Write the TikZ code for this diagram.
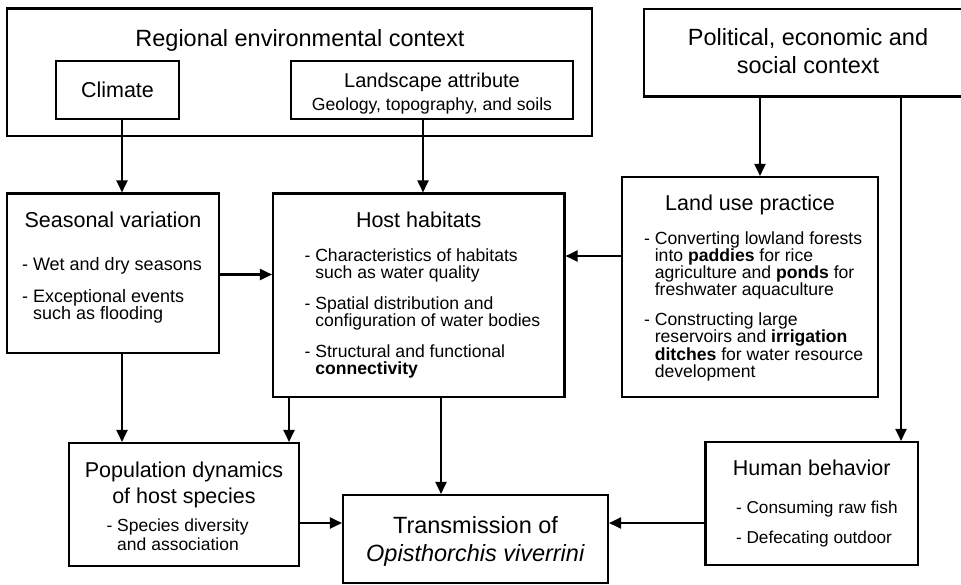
\documentclass[tikz,border=0pt]{standalone}
\usepackage{fontspec}
\setmainfont{Liberation Sans}
\usetikzlibrary{arrows.meta}
\tikzset{
  ov diagram/.style={line width=2.1pt, line join=miter},
  ov box/.style={draw=black, fill=white, line width=2.1pt, inner sep=0pt},
  ov head/.style={inner sep=0pt, align=center, anchor=north,
    font=\fontsize{23.5}{28}\selectfont},
  ov title/.style={inner sep=0pt, align=center, anchor=north,
    font=\fontsize{21.5}{26}\selectfont},
  ov note/.style={inner sep=0pt, align=center, anchor=north,
    font=\fontsize{17.6}{17.4}\selectfont},
  ov list/.style={inner sep=0pt, align=left, anchor=north west,
    font=\fontsize{17.6}{17.2}\selectfont},
  ov arrow/.style={-{Triangle[length=12pt,width=11pt]}, line width=2.1pt}
}

\begin{document}
\begin{tikzpicture}[ov diagram, x=1pt, y=-1pt]
\path[use as bounding box] (0,0) rectangle (961,584);
\clip (0,0) rectangle (961,584);
\fill[white] (0,0) rectangle (961,584);
% context boxes
\node[ov box, minimum width=585pt, minimum height=127.5pt] (regional) at (299.5,72.25) {};
\node[ov head] (regional title) at (300,28.8) {Regional environmental context};
\node[ov box, minimum width=123.6pt, minimum height=58pt] (climate) at (117.5,90) {};
\node[ov title] (climate title) at (117.5,81.3) {Climate};
\node[ov box, minimum width=282pt, minimum height=58pt] (landscape) at (432,90) {};
\node[ov title, font=\fontsize{20}{24}\selectfont] (landscape title) at (432,72.4) {Landscape attribute};
\node[ov note] (landscape note) at (432,96.2) {Geology, topography, and soils};
\node[ov box, minimum width=328pt, minimum height=87.5pt] (political) at (808,52.75) {};
\node[ov head] (political title) at (808,27.8) {Political, economic and\\social context};
% middle row
\node[ov box, minimum width=212pt, minimum height=159.5pt] (seasonal) at (113,273.25) {};
\node[ov title] (seasonal title) at (113,211.3) {Seasonal variation};
\node[ov list, font=\fontsize{18}{17.5}\selectfont] (seasonal list) at (21,256)
  {- Wet and dry seasons\\[14.5pt]- Exceptional events\\\hphantom{- }such as flooding};
\node[ov box, minimum width=291.5pt, minimum height=203.5pt] (host) at (418.75,295.25) {};
\node[ov title] (host title) at (418.75,211.3) {Host habitats};
\node[ov list] (host list) at (303.5,247.2)
  {- Characteristics of habitats\\\hphantom{- }such as water quality\\[13.8pt]%
   - Spatial distribution and\\\hphantom{- }configuration of water bodies\\[13.8pt]%
   - Structural and functional\\\hphantom{- }\textbf{connectivity}};
\node[ov box, minimum width=256pt, minimum height=220pt] (land use) at (750,287) {};
\node[ov title] (land use title) at (750,193.8) {Land use practice};
\node[ov list] (land use list) at (643,230.5)
  {- Converting lowland forests\\\hphantom{- }into \textbf{paddies} for rice\\%
   \hphantom{- }agriculture and \textbf{ponds} for\\\hphantom{- }freshwater aquaculture\\[12.6pt]%
   - Constructing large\\\hphantom{- }reservoirs and \textbf{irrigation}\\%
   \hphantom{- }\textbf{ditches} for water resource\\\hphantom{- }development};
% bottom row
\node[ov box, minimum width=230pt, minimum height=123pt] (population) at (184,504.5) {};
\node[ov title] (population title) at (184,461) {Population dynamics\\of host species};
\node[ov list, font=\fontsize{17.5}{19.5}\selectfont] (population list) at (105.5,517.3)
  {- Species diversity\\\hphantom{- }and association};
\node[ov box, minimum width=265pt, minimum height=88pt] (transmission) at (475.5,539) {};
\node[ov head, font=\fontsize{23.5}{27.5}\selectfont] (transmission title) at (475.5,515.5)
  {Transmission of\\\textit{Opisthorchis viverrini}};
\node[ov box, minimum width=212.5pt, minimum height=123pt] (human) at (811.75,503.5) {};
\node[ov title] (human title) at (811.75,459.3) {Human behavior};
\node[ov list, font=\fontsize{17.2}{17}\selectfont] (human list) at (735,499.5)
  {- Consuming raw fish\\[13pt]- Defecating outdoor};
% connector columns and rows
\coordinate (drop climate) at (122,0);
\coordinate (drop landscape) at (423,0);
\coordinate (drop land use) at (760,0);
\coordinate (drop human) at (901,0);
\coordinate (drop host pop) at (289,0);
\coordinate (drop host trans) at (441,0);
\coordinate (row seasonal) at (0,274.5);
\coordinate (row land use) at (0,256);
\coordinate (row trans) at (0,523);
% arrows
\draw[ov arrow] (climate.south -| drop climate) -- (seasonal.north -| drop climate);
\draw[ov arrow] (landscape.south -| drop landscape) -- (host.north -| drop landscape);
\draw[ov arrow] (political.south -| drop land use) -- (land use.north -| drop land use);
\draw[ov arrow] (political.south -| drop human) -- (human.north -| drop human);
\draw[ov arrow] (seasonal.east |- row seasonal) -- (host.west |- row seasonal);
\draw[ov arrow] (land use.west |- row land use) -- (host.east |- row land use);
\draw[ov arrow] (seasonal.south -| drop climate) -- (population.north -| drop climate);
\draw[ov arrow] (host.south -| drop host pop) -- (population.north -| drop host pop);
\draw[ov arrow] (host.south -| drop host trans) -- (transmission.north -| drop host trans);
\draw[ov arrow] (population.east |- row trans) -- (transmission.west |- row trans);
\draw[ov arrow] (human.west |- row trans) -- (transmission.east |- row trans);
\end{tikzpicture}
\end{document}
